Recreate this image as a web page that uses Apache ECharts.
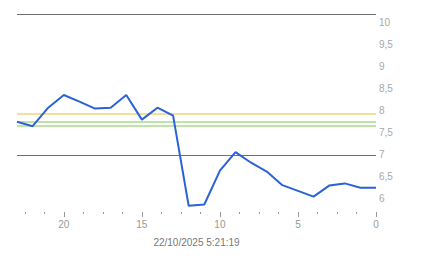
<!DOCTYPE html>
<html>
<head>
<meta charset="utf-8">
<script src="https://cdn.jsdelivr.net/npm/echarts@6/dist/echarts.min.js"></script>
<style>html,body{margin:0;padding:0;background:#fff}#c{width:443px;height:258px}</style>
</head>
<body>
<div id="c"></div>
<script>
var hours = [23,22,21,20,19,18,17,16,15,14,13,12,11,10,9,8,7,6,5,4,3,2,1,0];
var values = [7.75,7.65,8.07,8.36,8.21,8.05,8.07,8.36,7.80,8.07,7.89,5.84,5.87,6.64,7.06,6.82,6.62,6.31,6.18,6.05,6.30,6.35,6.25,6.25];
var xLabels = [0,5,10,15,20];
var xMinorTicks = [1.25,2.5,3.75,6.25,7.5,8.75,11.25,12.5,13.75,16.25,17.5,18.75,21.25,22.5];
var yLabels = [6,6.5,7,7.5,8,8.5,9,9.5,10];
var grayLines = [10.2,7];
var yellowLines = [7.94];
var greenLines = [7.757,7.666];
var axisName = '22/10/2025 5:21:19';

var font = '"Liberation Sans", Arial, sans-serif';
var pts = hours.map(function(h,i){return [h, values[i]];});
function refSeries(vals, color, width){
  return {
    type:'line', data:[], silent:true, z:1,
    markLine:{silent:true, symbol:['none','none'], label:{show:false},
      lineStyle:{color:color,width:width,type:'solid',opacity:1},
      emphasis:{disabled:true},
      data: vals.map(function(v){return {yAxis:v, lineStyle:{color:color,width:width}};})}
  };
}

var chart = echarts.init(document.getElementById('c'), null, {renderer:'svg'});
chart.setOption({
  animation:false,
  grid:{left:17,right:67,top:14,bottom:46,containLabel:false},
  xAxis:[{
    type:'value', min:0, max:23, inverse:true,
    name:axisName, nameLocation:'middle', nameGap:25,
    nameTextStyle:{color:'#777',fontSize:10,fontFamily:font},
    axisLine:{show:false},
    splitLine:{show:false},
    axisTick:{show:true,length:5,customValues:xLabels,lineStyle:{color:'#999'}},
    axisLabel:{customValues:xLabels,color:'#999',fontSize:10,fontFamily:font,margin:7}
  },{
    type:'value', min:0, max:23, inverse:true, position:'bottom',
    axisLine:{show:false}, splitLine:{show:false},
    axisTick:{show:true,length:2,customValues:xMinorTicks,lineStyle:{color:'#999'}},
    axisLabel:{show:false}
  }],
  yAxis:{
    type:'value', min:5.7, max:10.2, position:'right',
    axisLine:{show:false}, axisTick:{show:false}, splitLine:{show:false},
    axisLabel:{customValues:yLabels,color:'#a8a8a8',fontSize:10,fontFamily:font,margin:3,
      formatter:function(v){return String(v).replace('.',',');}}
  },
  series:[
    refSeries(grayLines,'#707070',1),
    refSeries(yellowLines,'#ecd67a',1.5),
    refSeries(greenLines,'#a8dc8c',1.5),
  {
    type:'line', data:pts, showSymbol:false, z:5,
    lineStyle:{color:'#2b62d6',width:2}, itemStyle:{color:'#2b62d6'}
  }]
});
</script>
</body>
</html>
